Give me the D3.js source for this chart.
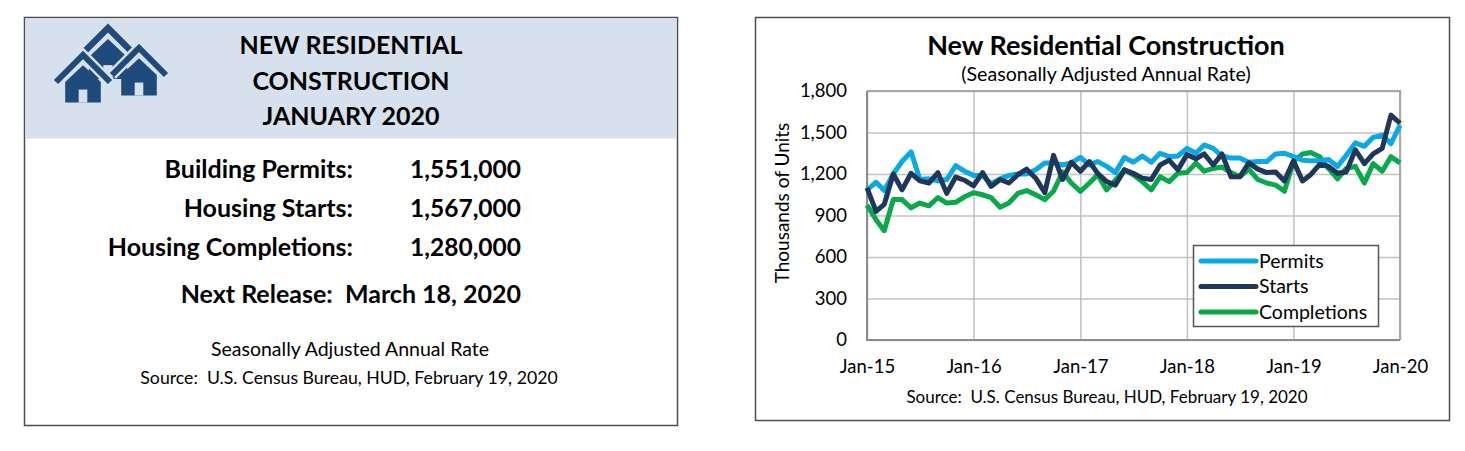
<!DOCTYPE html>
<html>
<head>
<meta charset="utf-8">
<script src="https://cdn.jsdelivr.net/npm/d3@7"></script>
<style>
  body { margin: 0; background: #fff; }
  svg { display: block; font-family: Lato, "Open Sans", sans-serif; }
</style>
</head>
<body>
<svg id="chart" width="1465" height="451"></svg>
<script>
// monthly SAAR, thousands of units, Jan-2015 .. Jan-2020
const permits = [1085, 1140, 1080, 1200, 1290, 1360, 1160, 1165, 1150, 1160, 1260, 1220,
  1190, 1190, 1130, 1165, 1190, 1200, 1200, 1230, 1280, 1280, 1265, 1280,
  1320, 1265, 1290, 1255, 1210, 1320, 1285, 1330, 1285, 1350, 1325, 1330,
  1385, 1350, 1410, 1385, 1330, 1315, 1315, 1285, 1290, 1290, 1345, 1350,
  1325, 1300, 1295, 1295, 1305, 1255, 1335, 1425, 1400, 1465, 1480, 1420,
  1551];
const starts = [1100, 930, 980, 1200, 1085, 1205, 1150, 1135, 1210, 1060, 1178, 1155,
  1115, 1210, 1110, 1160, 1135, 1195, 1235, 1170, 1065, 1335, 1160, 1285,
  1220, 1290, 1205, 1145, 1120, 1230, 1205, 1170, 1160, 1265, 1300, 1230,
  1340, 1310, 1345, 1265, 1345, 1180, 1180, 1280, 1235, 1210, 1215, 1150,
  1295, 1150, 1195, 1270, 1255, 1205, 1215, 1375, 1275, 1345, 1385, 1626,
  1567];
const completions = [975, 870, 790, 1015, 1015, 955, 990, 970, 1030, 990, 995, 1035,
  1065, 1050, 1030, 960, 990, 1060, 1080, 1050, 1015, 1075, 1215, 1135,
  1075, 1135, 1195, 1085, 1155, 1230, 1195, 1145, 1085, 1180, 1145, 1205,
  1210, 1280, 1220, 1240, 1250, 1210, 1180, 1235, 1160, 1135, 1120, 1075,
  1290, 1345, 1355, 1325, 1240, 1165, 1240, 1255, 1135, 1275, 1220, 1325,
  1280];
const months = permits.map((d, i) => new Date(2015, i, 1));

const seriesNames = ["Permits", "Starts", "Completions"];
const seriesColors = ["#0aa8e6", "#1f3759", "#08a84b"];
const yTicks = [0, 300, 600, 900, 1200, 1500, 1800];

const headerLines = ["NEW RESIDENTIAL", "CONSTRUCTION", "JANUARY 2020"];
const summaryLabels = ["Building Permits:", "Housing Starts:", "Housing Completions:"];
const summaryValues = ["1,551,000", "1,567,000", "1,280,000"];
const nextRelease = "Next Release:  March 18, 2020";
const sourceText = "Source:  U.S. Census Bureau, HUD, February 19, 2020";

const svg = d3.select("#chart");
const navy = "#1f4a7c";
const band = "#d7e1ed";

// ---------- left info panel ----------
const left = svg.append("g");
left.append("rect").attr("x", 24.5).attr("y", 17.5).attr("width", 653).attr("height", 408)
  .attr("fill", "#fff").attr("stroke", "#4d4d4d").attr("stroke-width", 1.5);
left.append("rect").attr("x", 25.5).attr("y", 18.5).attr("width", 651).attr("height", 120)
  .attr("fill", band);

function house(g, cx, top, w, halo) {
  let roof = [[cx - w / 2, top + w * 0.5], [cx, top], [cx + w / 2, top + w * 0.5]];
  let body = [[cx - w * 0.33, top + w * 0.5], [cx, top + w * 0.19], [cx + w * 0.33, top + w * 0.5],
    [cx + w * 0.33, top + w * 0.88], [cx - w * 0.33, top + w * 0.88]];
  if (halo) {
    g.append("polyline").attr("points", roof.join(" ")).attr("fill", "none")
      .attr("stroke", band).attr("stroke-width", w * 0.2);
  }
  g.append("polyline").attr("points", roof.join(" ")).attr("fill", "none")
    .attr("stroke", navy).attr("stroke-width", w * 0.11);
  g.append("polygon").attr("points", body.join(" ")).attr("fill", navy);
  g.append("rect").attr("x", cx - w * 0.08).attr("y", top + w * 0.64)
    .attr("width", w * 0.16).attr("height", w * 0.24).attr("fill", band);
}
const icon = left.append("g");
house(icon, 108, 28, 58, false);
house(icon, 139, 48, 54, true);
house(icon, 83, 55, 54, true);

left.selectAll(".hdr").data(headerLines).join("text")
  .attr("x", 351).attr("y", (d, i) => 54 + i * 35.5)
  .attr("text-anchor", "middle").attr("font-weight", 700).attr("font-size", 25)
  .attr("fill", "#000").text(d => d);

left.selectAll(".lab").data(summaryLabels).join("text")
  .attr("x", 353).attr("y", (d, i) => 178 + i * 39)
  .attr("text-anchor", "end").attr("font-weight", 700).attr("font-size", 25)
  .text(d => d);
left.selectAll(".val").data(summaryValues).join("text")
  .attr("x", 521).attr("y", (d, i) => 178 + i * 39)
  .attr("text-anchor", "end").attr("font-weight", 700).attr("font-size", 24.5)
  .text(d => d);
left.append("text").attr("x", 521).attr("y", 303).attr("text-anchor", "end")
  .attr("font-weight", 700).attr("font-size", 25).attr("xml:space", "preserve").text(nextRelease);
left.append("text").attr("x", 350).attr("y", 356).attr("text-anchor", "middle")
  .attr("font-size", 19.5).text("Seasonally Adjusted Annual Rate");
left.append("text").attr("x", 349).attr("y", 384).attr("text-anchor", "middle")
  .attr("font-size", 17.7).attr("xml:space", "preserve").text(sourceText);

// ---------- right chart panel ----------
const right = svg.append("g");
right.append("rect").attr("x", 755.5).attr("y", 17.5).attr("width", 694).attr("height", 403)
  .attr("fill", "#fff").attr("stroke", "#4d4d4d").attr("stroke-width", 1.5);

const x = d3.scaleTime().domain([new Date(2015, 0, 1), new Date(2020, 0, 1)]).range([867, 1400]);
const y = d3.scaleLinear().domain([0, 1800]).range([340, 91]);

right.append("text").attr("x", 1106).attr("y", 55).attr("text-anchor", "middle")
  .attr("font-weight", 700).attr("font-size", 27).text("New Residential Construction");
right.append("text").attr("x", 1106).attr("y", 81).attr("text-anchor", "middle")
  .attr("font-size", 19.6).text("(Seasonally Adjusted Annual Rate)");

// grid
right.append("g").attr("transform", "translate(0,340)")
  .call(d3.axisBottom(x).ticks(d3.timeYear.every(1)).tickSize(-249).tickFormat(""))
  .call(g => g.select(".domain").remove())
  .call(g => g.selectAll("line").attr("stroke", "#c3c3c3").attr("stroke-width", 1.6));
right.append("g").attr("transform", "translate(867,0)")
  .call(d3.axisLeft(y).tickValues(yTicks).tickSize(-533).tickFormat(""))
  .call(g => g.select(".domain").remove())
  .call(g => g.selectAll("line").attr("stroke", "#c3c3c3").attr("stroke-width", 1.6));

// frame
right.append("path").attr("d", "M867,91H1400V340").attr("fill", "none")
  .attr("stroke", "#a8a8a8").attr("stroke-width", 2);
right.append("path").attr("d", "M867,91V340H1400").attr("fill", "none")
  .attr("stroke", "#8c8c8c").attr("stroke-width", 2);

// axis labels
right.append("g").attr("transform", "translate(867,0)")
  .call(d3.axisLeft(y).tickValues(yTicks).tickSize(0).tickPadding(20).tickFormat(d3.format(",")))
  .call(g => g.select(".domain").remove())
  .call(g => g.selectAll("text").attr("font-size", 18.5).attr("font-family", "Lato, sans-serif").attr("fill", "#000"));
right.append("g").attr("transform", "translate(0,340)")
  .call(d3.axisBottom(x).ticks(d3.timeYear.every(1)).tickSize(0).tickPadding(20)
    .tickFormat(d3.timeFormat("%b-%y")))
  .call(g => g.select(".domain").remove())
  .call(g => g.selectAll("text").attr("font-size", 18.5).attr("font-family", "Lato, sans-serif").attr("fill", "#000"));

right.append("text").attr("transform", "translate(789,203) rotate(-90)")
  .attr("text-anchor", "middle").attr("font-size", 19).text("Thousands of Units");
right.append("text").attr("x", 1107).attr("y", 403).attr("text-anchor", "middle")
  .attr("font-size", 17).attr("xml:space", "preserve").text(sourceText);

// lines (completions drawn first, permits under starts)
const line = d3.line().x((d, i) => x(months[i])).y(d => y(d));
const allSeries = [permits, starts, completions];
[2, 0, 1].forEach(k => {
  right.append("path").datum(allSeries[k]).attr("d", line)
    .attr("fill", "none").attr("stroke", seriesColors[k]).attr("stroke-width", 5)
    .attr("stroke-linejoin", "round");
});

// legend
const legend = right.append("g");
legend.append("rect").attr("x", 1193.5).attr("y", 245.5).attr("width", 185).attr("height", 81)
  .attr("fill", "#fff").attr("stroke", "#555").attr("stroke-width", 1.5);
seriesNames.forEach((name, i) => {
  const ly = 261 + i * 25.5;
  legend.append("line").attr("x1", 1201).attr("x2", 1256).attr("y1", ly).attr("y2", ly)
    .attr("stroke", seriesColors[i]).attr("stroke-width", 5).attr("stroke-linecap", "round");
  legend.append("text").attr("x", 1259).attr("y", ly + 6.5).attr("font-size", 19.5).text(name);
});
</script>
</body>
</html>
